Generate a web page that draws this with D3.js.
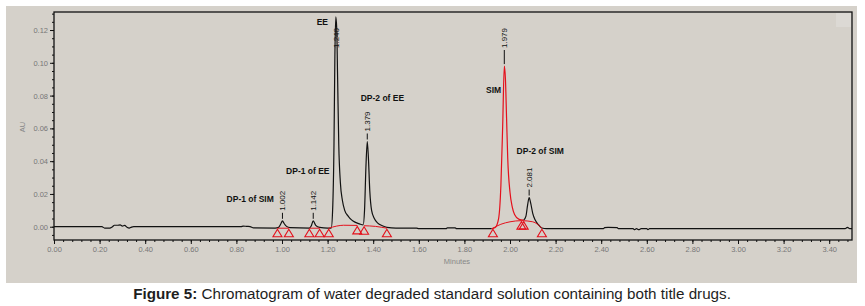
<!DOCTYPE html>
<html>
<head>
<meta charset="utf-8">
<script src="https://d3js.org/d3.v7.min.js"></script>
<style>
  body { margin: 0; background: #fff; }
</style>
</head>
<body>
<script>
// chromatogram trace: [minutes, AU]
const trace = [
  [0.00, 0], [0.21, 0], [0.222, -0.0008], [0.245, -0.0009], [0.255, -0.0002],
  [0.265, 0.0009], [0.28, 0.0009], [0.29, 0.0011], [0.30, 0.0004], [0.31, 0.0008],
  [0.32, -0.0003], [0.33, -0.0008], [0.34, -0.0002], [0.35, 0], [0.82, 0],
  [0.83, 0.0004], [0.845, 0.0002], [0.86, 0.0001], [0.875, -0.0007], [0.97, -0.0008],
  [0.985, -0.0004], [0.995, 0.0018], [1.002, 0.0036], [1.01, 0.0018], [1.02, 0.0002],
  [1.035, -0.0006], [1.12, -0.0008], [1.128, 0.0004], [1.137, 0.0036], [1.148, 0.0008],
  [1.165, -0.0004], [1.20, -0.0008], [1.216, -0.0008], [1.222, 0.01], [1.228, 0.05],
  [1.232, 0.105], [1.236, 0.128], [1.240, 0.121], [1.244, 0.09], [1.249, 0.05],
  [1.256, 0.027], [1.265, 0.016], [1.275, 0.010], [1.29, 0.0065], [1.305, 0.0042],
  [1.32, 0.0028], [1.34, 0.0017], [1.356, 0.0011], [1.362, 0.01], [1.368, 0.036],
  [1.374, 0.052], [1.379, 0.042], [1.385, 0.022], [1.393, 0.010], [1.405, 0.005],
  [1.42, 0.0022], [1.44, 0.0006], [1.46, -0.0004], [1.50, -0.0009], [1.59, -0.0009],
  [1.60, -0.0012], [1.72, -0.0012], [1.725, -0.0007], [1.76, -0.0007], [1.765, -0.0012],
  [1.92, -0.0012], [1.935, -0.0005], [1.95, 0.005], [1.96, 0.025], [1.968, 0.062],
  [1.975, 0.098], [1.980, 0.090], [1.985, 0.066], [1.99, 0.042], [2.00, 0.021],
  [2.01, 0.012], [2.02, 0.0075], [2.04, 0.0045], [2.06, 0.004], [2.07, 0.0065],
  [2.077, 0.013], [2.084, 0.0178], [2.091, 0.0142], [2.10, 0.008], [2.11, 0.0042],
  [2.125, 0.0012], [2.14, -0.0008], [2.16, -0.0012], [2.41, -0.0012], [2.415, -0.0006],
  [2.43, -0.0004], [2.47, -0.0006], [2.475, -0.0012], [2.54, -0.0012], [2.545, -0.0018],
  [2.555, -0.0012], [2.565, -0.0018], [2.575, -0.0012], [2.60, -0.0012], [2.605, -0.0018],
  [2.612, -0.0012], [3.47, -0.0012], [3.48, -0.0004], [3.49, -0.0012], [3.5, -0.0012]
];
// part of the trace drawn in red (SIM peak)
const simRange = [1.92, 2.06];

// integration baselines (red)
const baselines = [
  [[0.98, -0.0009], [1.03, -0.0009]],
  [[1.12, -0.0009], [1.165, -0.0009]],
  [[1.205, -0.0009], [1.24, 0.0004], [1.27, 0.0009], [1.33, 0.0008]],
  [[1.36, 0.0006], [1.41, 0.0002], [1.46, -0.0009]],
  [[1.925, -0.0009], [1.96, 0.0015], [2.00, 0.0030], [2.05, 0.0037], [2.10, 0.0030], [2.14, -0.0009]]
];
// peak start / end markers
const markTimes = [0.98, 1.03, 1.12, 1.165, 1.205, 1.33, 1.36, 1.46, 1.925, 2.05, 2.06, 2.14];
const markAU    = [-0.0009, -0.0009, -0.0009, -0.0009, -0.0009, 0.0008, 0.0006, -0.0009, -0.0009, 0.0037, 0.0037, -0.0009];

// retention time labels
const peakTimes  = [1.002, 1.137, 1.236, 1.374, 1.975, 2.084];
const peakAU     = [0.0036, 0.0036, 0.128, 0.052, 0.098, 0.0178];
const peakLabels = ["1.002", "1.142", "1.240", "1.379", "1.979", "2.081"];

// compound names
const names     = ["DP-1 of SIM", "DP-1 of EE", "EE", "DP-2 of EE", "SIM", "DP-2 of SIM"];
const nameTimes = [0.757, 1.018, 1.152, 1.345, 1.895, 2.029];
const nameAU    = [0.0163, 0.0334, 0.1243, 0.0779, 0.0828, 0.0458];

const yTicks = [0, 0.02, 0.04, 0.06, 0.08, 0.10, 0.12];
const xTicks = [0, 0.2, 0.4, 0.6, 0.8, 1.0, 1.2, 1.4, 1.6, 1.8, 2.0, 2.2, 2.4, 2.6, 2.8, 3.0, 3.2, 3.4];

const width = 865, height = 306;
const svg = d3.select("body").append("svg")
  .attr("width", width).attr("height", height)
  .style("font-family", "'Liberation Sans', Arial, sans-serif");

svg.append("rect").attr("x", 6).attr("y", 6).attr("width", 851).attr("height", 277).attr("fill", "#d5d1ca");

const x = d3.scaleLinear().domain([0, 3.5]).range([54, 852]);
const y = d3.scaleLinear().domain([-0.0081, 0.131]).range([240, 12]);

svg.append("defs").append("clipPath").attr("id", "clip")
  .append("rect").attr("x", 54).attr("y", 12).attr("width", 798).attr("height", 228);

// small lighter box in the top right corner
svg.append("rect").attr("x", 836).attr("y", 13).attr("width", 15).attr("height", 14).attr("fill", "#dcd9d4");

// axes
const gy = svg.append("g").attr("transform", "translate(54,0)")
  .call(d3.axisLeft(y).tickValues(yTicks).tickSize(4).tickPadding(2).tickFormat(d3.format(".2f")));
const gyMinor = svg.append("g").attr("transform", "translate(54,0)")
  .call(d3.axisLeft(y).tickValues(d3.range(-0.005, 0.1301, 0.005)).tickSize(2).tickFormat(""));
const gx = svg.append("g").attr("transform", "translate(0,240)")
  .call(d3.axisBottom(x).tickValues(xTicks).tickSize(4).tickPadding(3).tickFormat(d3.format(".2f")));
const gxMinor = svg.append("g").attr("transform", "translate(0,240)")
  .call(d3.axisBottom(x).tickValues(d3.range(0, 3.5, 0.04)).tickSize(2).tickFormat(""));

[gy, gyMinor, gx, gxMinor].forEach(g => {
  g.select(".domain").remove();
  g.selectAll(".tick line").attr("stroke", "#111");
  g.selectAll("text").attr("fill", "#777").style("font-size", "7.5px");
});

// frame
svg.append("rect").attr("x", 54).attr("y", 12).attr("width", 798).attr("height", 228)
  .attr("fill", "none").attr("stroke", "#111").attr("stroke-width", 1.3);

// axis titles
svg.append("text").attr("transform", "translate(25,127) rotate(-90)")
  .attr("text-anchor", "middle").attr("fill", "#888").style("font-size", "7.5px").text("AU");
svg.append("text").attr("x", 457).attr("y", 264)
  .attr("text-anchor", "middle").attr("fill", "#888").style("font-size", "7.5px").text("Minutes");

const plot = svg.append("g").attr("clip-path", "url(#clip)");
const line = d3.line().x(d => x(d[0])).y(d => y(d[1])).curve(d3.curveMonotoneX);
const inSim = d => d[0] >= simRange[0] && d[0] <= simRange[1];

// black trace with a gap where the red SIM peak sits
plot.append("path").datum(trace)
  .attr("d", line.defined(d => !(d[0] > simRange[0] && d[0] < simRange[1])))
  .attr("fill", "none").attr("stroke", "#111").attr("stroke-width", 1.2);

plot.append("path").datum(trace.filter(inSim))
  .attr("d", d3.line().x(d => x(d[0])).y(d => y(d[1])).curve(d3.curveMonotoneX))
  .attr("fill", "none").attr("stroke", "#e4101c").attr("stroke-width", 1.2);

plot.selectAll(".base").data(baselines).enter().append("path")
  .attr("d", d3.line().x(d => x(d[0])).y(d => y(d[1])).curve(d3.curveMonotoneX))
  .attr("fill", "none").attr("stroke", "#e4101c").attr("stroke-width", 1);

// markers: open triangles, apex on the baseline point
plot.selectAll(".mark").data(markTimes).enter().append("path")
  .attr("d", (t, i) => {
    const cx = x(t), cy = y(markAU[i]) + 1;
    return `M${cx},${cy} L${cx - 4.5},${cy + 7.5} L${cx + 4.5},${cy + 7.5} Z`;
  })
  .attr("fill", "none").attr("stroke", "#e4101c").attr("stroke-width", 1.1);

// retention time labels
peakTimes.forEach((t, i) => {
  const px = x(t), py = y(peakAU[i]);
  let base = py - 8;
  if (base < 60) base = 50;
  if (py - base > 2) {
    svg.append("line").attr("x1", px).attr("x2", px).attr("y1", py - 2).attr("y2", base)
      .attr("stroke", "#111").attr("stroke-width", 1);
  }
  svg.append("text").attr("transform", `translate(${px + 3},${base - 2}) rotate(-90)`)
    .attr("fill", "#111").style("font-size", "8px")
    .text(peakLabels[i]);
});

// compound names
names.forEach((n, i) => {
  svg.append("text").attr("x", x(nameTimes[i])).attr("y", y(nameAU[i]))
    .attr("dominant-baseline", "middle")
    .attr("fill", "#111").style("font-size", "8.5px").style("font-weight", "bold")
    .text(n);
});

// caption
const cap = svg.append("text").attr("x", 432).attr("y", 299).attr("text-anchor", "middle")
  .attr("fill", "#1e1e1e").style("font-size", "15.2px");
cap.append("tspan").style("font-weight", "bold").text("Figure 5:");
cap.append("tspan").text(" Chromatogram of water degraded standard solution containing both title drugs.");
</script>
</body>
</html>
